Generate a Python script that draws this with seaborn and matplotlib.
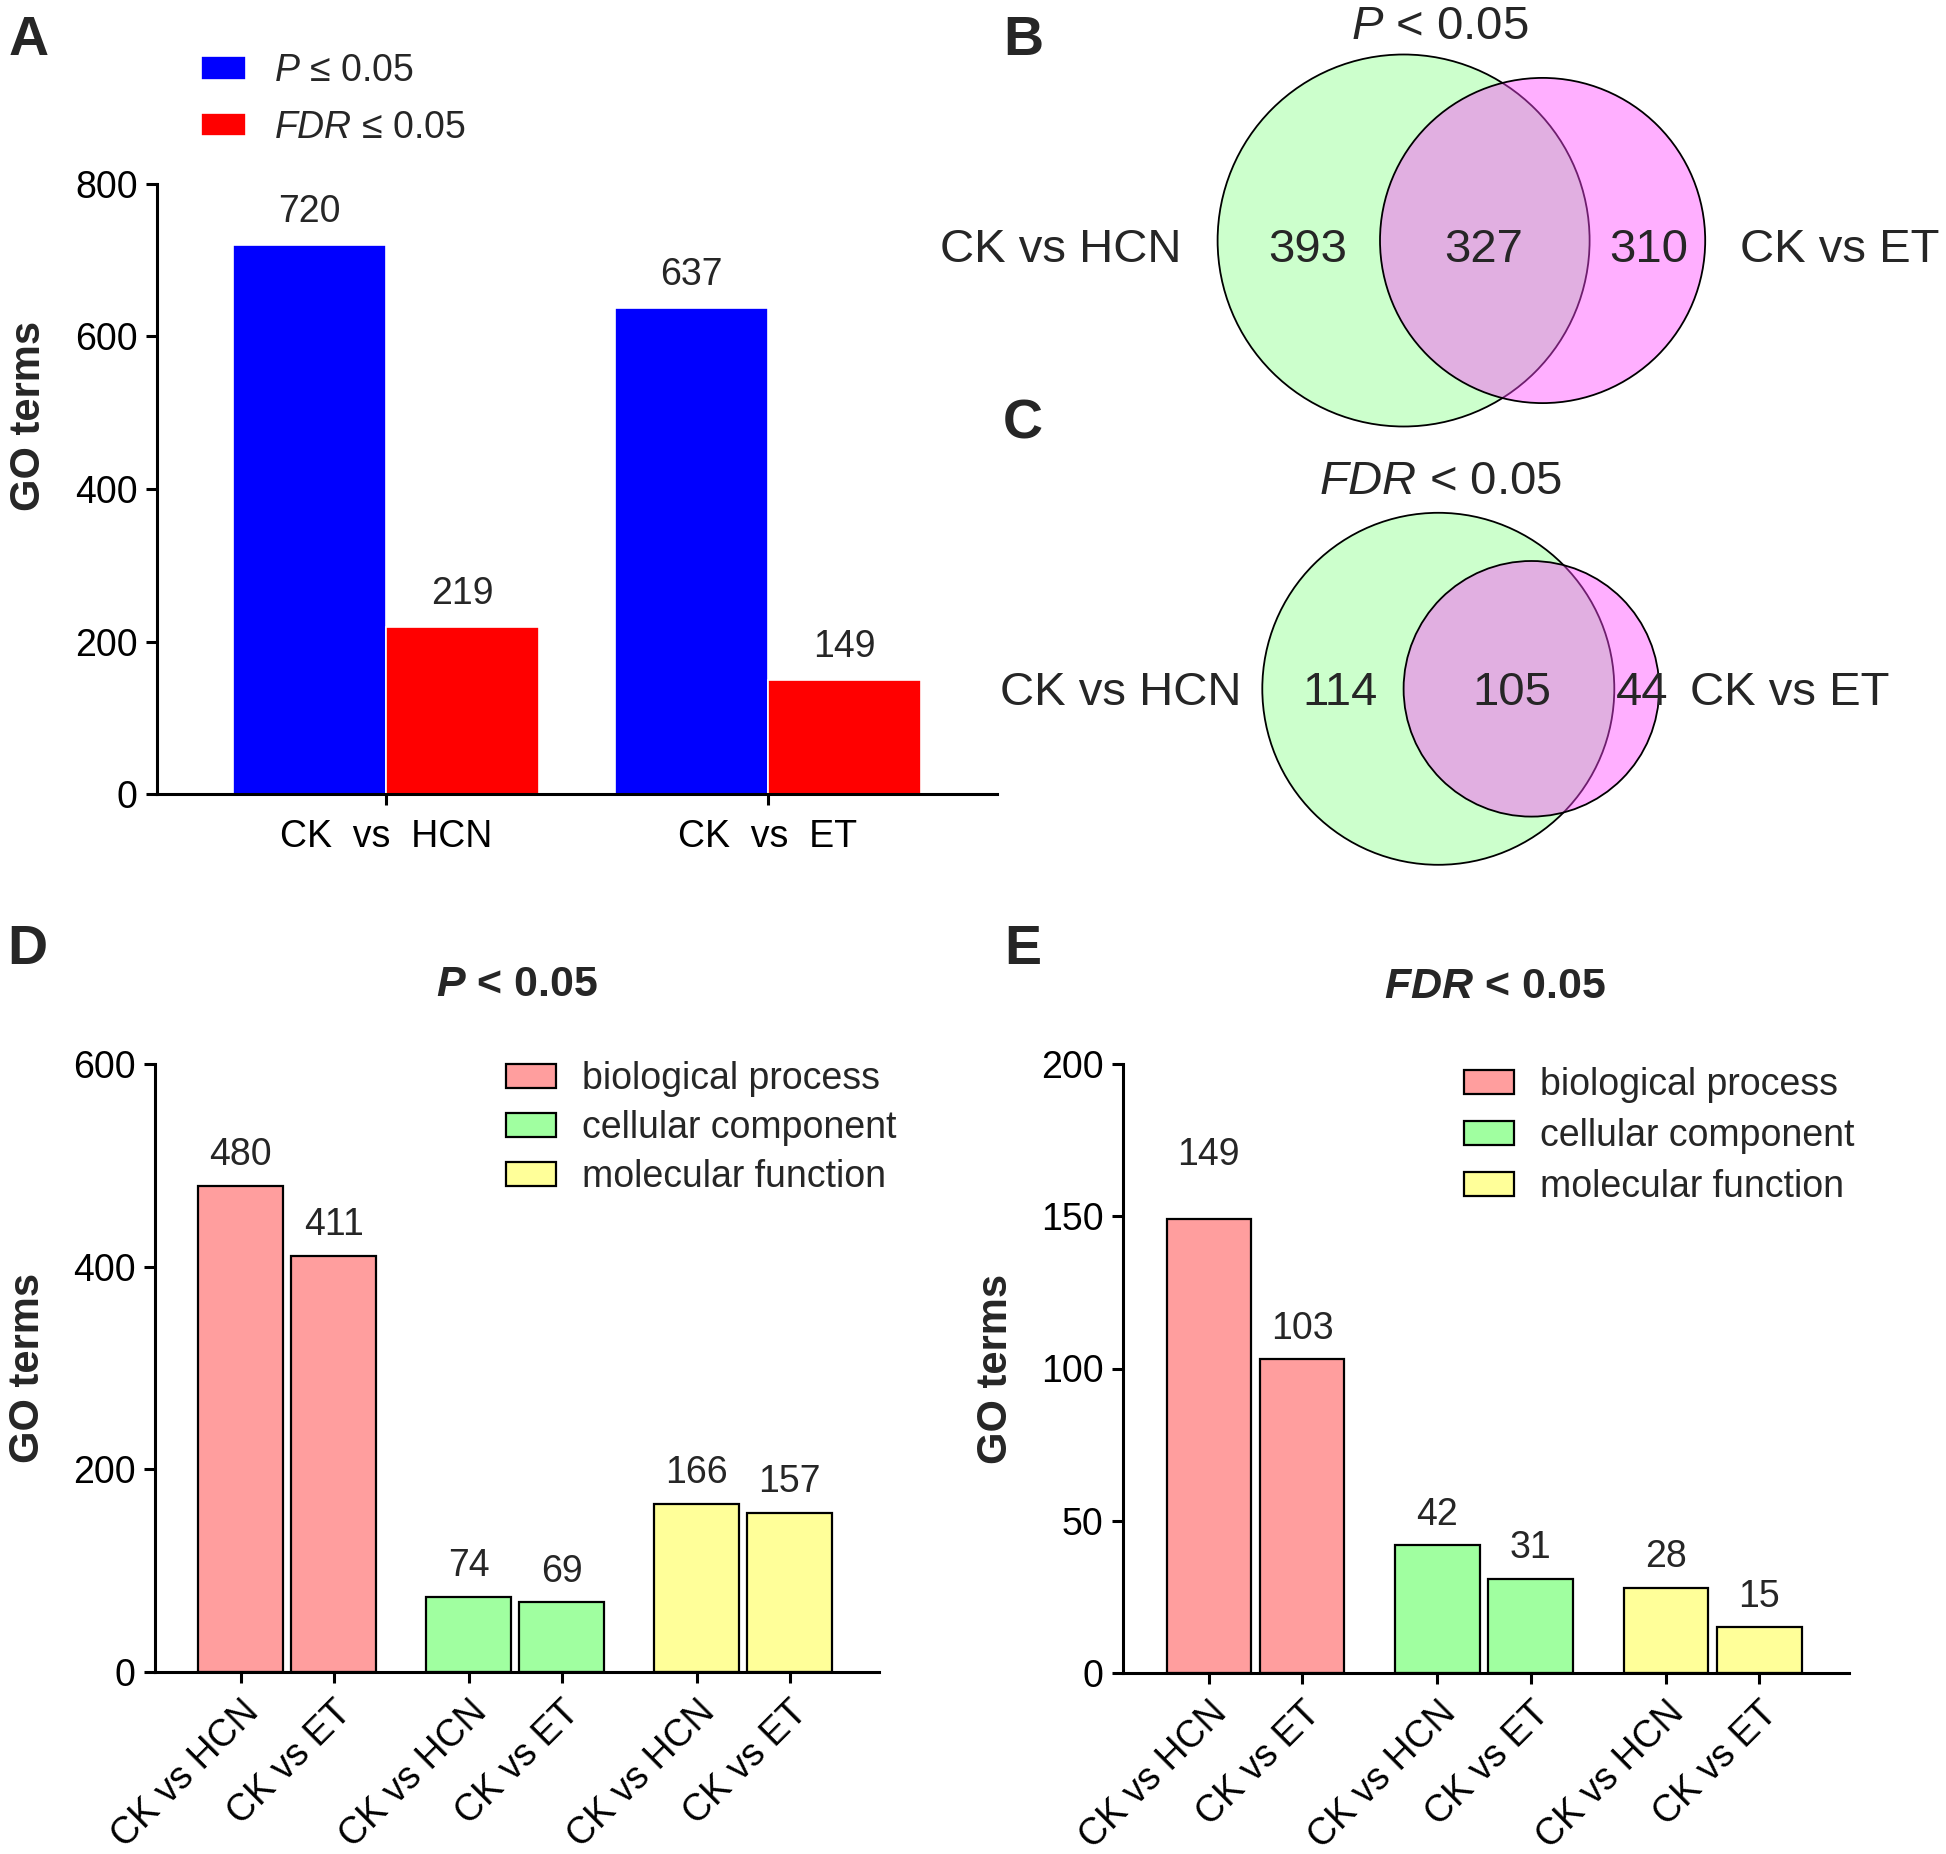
import numpy as np
import pandas as pd
import matplotlib
matplotlib.use("Agg")
import matplotlib.pyplot as plt
import matplotlib.transforms as mtrans
import seaborn as sns
from matplotlib.patches import Circle

# ---------------- data ----------------
# Panel A
a_comparisons = ["CK  vs  HCN", "CK  vs  ET"]
a_thresholds = ["P", "FDR"]
a_p_counts = [720, 637]
a_fdr_counts = [219, 149]

# Venn B (P < 0.05)
b_only_hcn, b_shared, b_only_et = 393, 327, 310
# Venn C (FDR < 0.05)
c_only_hcn, c_shared, c_only_et = 114, 105, 44
venn_set_labels = ["CK vs HCN", "CK vs ET"]

# Panels D / E
ontologies = ["biological process", "cellular component", "molecular function"]
comparisons = ["CK vs HCN", "CK vs ET"]
d_bp = [480, 411]
d_cc = [74, 69]
d_mf = [166, 157]
e_bp = [149, 103]
e_cc = [42, 31]
e_mf = [28, 15]

# ---------------- style ----------------
sns.set_theme(style="ticks")
FAM = ["Liberation Sans", "DejaVu Sans"]
plt.rcParams["font.family"] = FAM
plt.rcParams["mathtext.fontset"] = "custom"
plt.rcParams["mathtext.rm"] = "Liberation Sans"
plt.rcParams["mathtext.it"] = "Liberation Sans:italic"
plt.rcParams["mathtext.bf"] = "Liberation Sans:italic:bold"
plt.rcParams["axes.linewidth"] = 2.2
plt.rcParams["xtick.major.width"] = 2.2
plt.rcParams["ytick.major.width"] = 2.2
plt.rcParams["xtick.major.size"] = 8
plt.rcParams["ytick.major.size"] = 8
plt.rcParams["xtick.color"] = "black"
plt.rcParams["ytick.color"] = "black"
plt.rcParams["axes.edgecolor"] = "black"

W, H = 1946, 1854
fig = plt.figure(figsize=(W / 100, H / 100), dpi=100)


def fig_axes(left, right, top, bottom):
    """axes from pixel box"""
    ax = fig.add_axes([left / W, 1 - bottom / H, (right - left) / W, (bottom - top) / H])
    ax.set_facecolor("none")
    return ax


TICK_FS = 27
NUM_FS = 27

# ---------------- Panel A ----------------
axA = fig_axes(157, 997, 184, 794)
dfA = pd.DataFrame({
    "comparison": a_comparisons * 2,
    "threshold": [a_thresholds[0]] * 2 + [a_thresholds[1]] * 2,
    "count": a_p_counts + a_fdr_counts,
})
sns.barplot(data=dfA, x="comparison", y="count", hue="threshold",
            palette=["#0000ff", "#ff0000"], width=0.8, edgecolor="white",
            linewidth=1.2, saturation=1, ax=axA)
for cont in axA.containers:
    for bar in cont:
        axA.annotate(f"{int(bar.get_height())}",
                     (bar.get_x() + bar.get_width() / 2, bar.get_height()),
                     xytext=(0, 24), textcoords="offset points",
                     ha="center", va="center", fontsize=NUM_FS)
axA.set_xlim(-0.6, 1.6)
axA.set_ylim(0, 800)
axA.set_yticks([0, 200, 400, 600, 800])
axA.set_xlabel("")
axA.set_ylabel("GO terms", fontsize=30, fontweight="bold")
axA.yaxis.set_label_coords(-0.129, 0.62)
axA.tick_params(axis="y", labelsize=TICK_FS, pad=6)
axA.tick_params(axis="x", labelsize=TICK_FS, pad=10)
sns.despine(ax=axA)
hA, _ = axA.get_legend_handles_labels()
axA.legend(hA, ["$P$ ≤ 0.05", "$FDR$ ≤ 0.05"], loc="upper left",
           bbox_to_anchor=(201 / W, 1 - 53 / H), bbox_transform=fig.transFigure,
           frameon=False, fontsize=27, handlelength=1.2, handleheight=0.6,
           handletextpad=0.75, labelspacing=0.55, borderpad=0, borderaxespad=0)

# ---------------- Panels D / E ----------------
GAP = 2.45
D_data = [d_bp, d_cc, d_mf]
E_data = [e_bp, e_cc, e_mf]
palette = {"biological process": "#ff9e9e", "cellular component": "#a0ffa0",
           "molecular function": "#ffff99"}


def long_df(groups):
    rows = []
    for g, vals in enumerate(groups):
        for m, v in enumerate(vals):
            rows.append({"pos": g * GAP + m, "ontology": ontologies[g],
                         "comparison": comparisons[m], "count": v})
    return pd.DataFrame(rows)


def bar_panel(ax, df, ylim, yticks, extra_pad=None):
    sns.barplot(data=df, x="pos", y="count", hue="ontology", palette=palette,
                native_scale=True, dodge=False, width=68 / 75,
                edgecolor="black", linewidth=1.6, saturation=1, ax=ax)
    bars = sorted([b for c in ax.containers for b in c], key=lambda b: b.get_x())
    for i, bar in enumerate(bars):
        pad = 22
        if extra_pad is not None:
            pad += extra_pad[i]
        ax.annotate(f"{int(round(bar.get_height()))}",
                    (bar.get_x() + bar.get_width() / 2, bar.get_height()),
                    xytext=(0, pad), textcoords="offset points",
                    ha="center", va="center", fontsize=NUM_FS)
    ax.set_xlim(-0.92, 6.86)
    ax.set_ylim(*ylim)
    ax.set_yticks(yticks)
    ax.set_xticks(df["pos"].values)
    ax.set_xticklabels(df["comparison"].values, rotation=45, ha="right",
                       rotation_mode="anchor", fontsize=TICK_FS)
    shift = mtrans.ScaledTranslation(-5 / 100, 0, fig.dpi_scale_trans)
    for lab in ax.get_xticklabels():
        lab.set_transform(lab.get_transform() + shift)
    ax.tick_params(axis="y", labelsize=TICK_FS, pad=6)
    ax.tick_params(axis="x", pad=8)
    ax.set_xlabel("")
    ax.set_ylabel("GO terms", fontsize=30, fontweight="bold")
    ax.yaxis.set_label_coords(-0.148, 0.5)
    sns.despine(ax=ax)


axD = fig_axes(155, 879, 1064, 1672)
bar_panel(axD, long_df(D_data), (0, 600), [0, 200, 400, 600])
axD.legend(loc="upper left", bbox_to_anchor=(506 / W, 1 - 1061 / H),
           bbox_transform=fig.transFigure, frameon=False, fontsize=27,
           handlelength=1.33, handleheight=0.62, handletextpad=0.7,
           labelspacing=0.35, borderpad=0, borderaxespad=0)

axE = fig_axes(1123, 1849, 1064, 1673)
bar_panel(axE, long_df(E_data), (0, 200), [0, 50, 100, 150, 200],
          extra_pad=[24, 0, 0, 0, 0, 0])
axE.legend(loc="upper left", bbox_to_anchor=(1464 / W, 1 - 1067 / H),
           bbox_transform=fig.transFigure, frameon=False, fontsize=27,
           handlelength=1.33, handleheight=0.62, handletextpad=0.7,
           labelspacing=0.4, borderpad=0, borderaxespad=0)

fig.text(517 / W, 1 - 985 / H, r"$\mathbf{P}$ < 0.05", fontsize=31,
         fontweight="bold", ha="center", va="center")
fig.text(1495 / W, 1 - 987 / H, r"$\mathbf{FDR}$ < 0.05", fontsize=31,
         fontweight="bold", ha="center", va="center")

# ---------------- Venn B / C (overlay in pixel coordinates) ----------------
ov = fig.add_axes([0, 0, 1, 1], zorder=-1)
ov.set_xlim(0, W)
ov.set_ylim(H, 0)
ov.axis("off")

GREEN = "#ccffcc"
PINK = "#ff47ff"
PINK_A = 0.43
VFS = 34


def venn(cx1, cx2, cy, r1, r2, counts, tx, ty):
    ov.add_patch(Circle((cx1, cy), r1, facecolor=GREEN, edgecolor="black", lw=1.3))
    ov.add_patch(Circle((cx2, cy), r2, facecolor=PINK, alpha=PINK_A, edgecolor="none"))
    ov.add_patch(Circle((cx2, cy), r2, facecolor="none", edgecolor="black", lw=1.3))
    lbl_r, n1, n12, n2, lbl_l = tx
    ov.text(lbl_r, ty, venn_set_labels[0], fontsize=VFS, ha="right", va="center")
    ov.text(n1, ty, str(counts[0]), fontsize=VFS, ha="center", va="center")
    ov.text(n12, ty, str(counts[1]), fontsize=VFS, ha="center", va="center")
    ov.text(n2, ty, str(counts[2]), fontsize=VFS, ha="center", va="center")
    ov.text(lbl_l, ty, venn_set_labels[1], fontsize=VFS, ha="left", va="center")


venn(1403.6, 1542.6, 240.5, 186, 162.6, [b_only_hcn, b_shared, b_only_et],
     (1181, 1308, 1484, 1649, 1740), 250)
venn(1438.3, 1531.4, 688.8, 176, 127.8, [c_only_hcn, c_shared, c_only_et],
     (1241, 1340, 1511.5, 1642, 1690), 693)
ov.text(1440, 27, "$P$ < 0.05", fontsize=VFS, ha="center", va="center")
ov.text(1440, 482, "$FDR$ < 0.05", fontsize=VFS, ha="center", va="center")

# panel letters
for letter, x, y in [("A", 29, 41), ("B", 1023, 41), ("C", 1023, 424),
                     ("D", 27, 950), ("E", 1023, 950)]:
    ov.text(x, y, letter, fontsize=40, fontweight="bold", ha="center", va="center")

fig.savefig("out.png", dpi=100)
